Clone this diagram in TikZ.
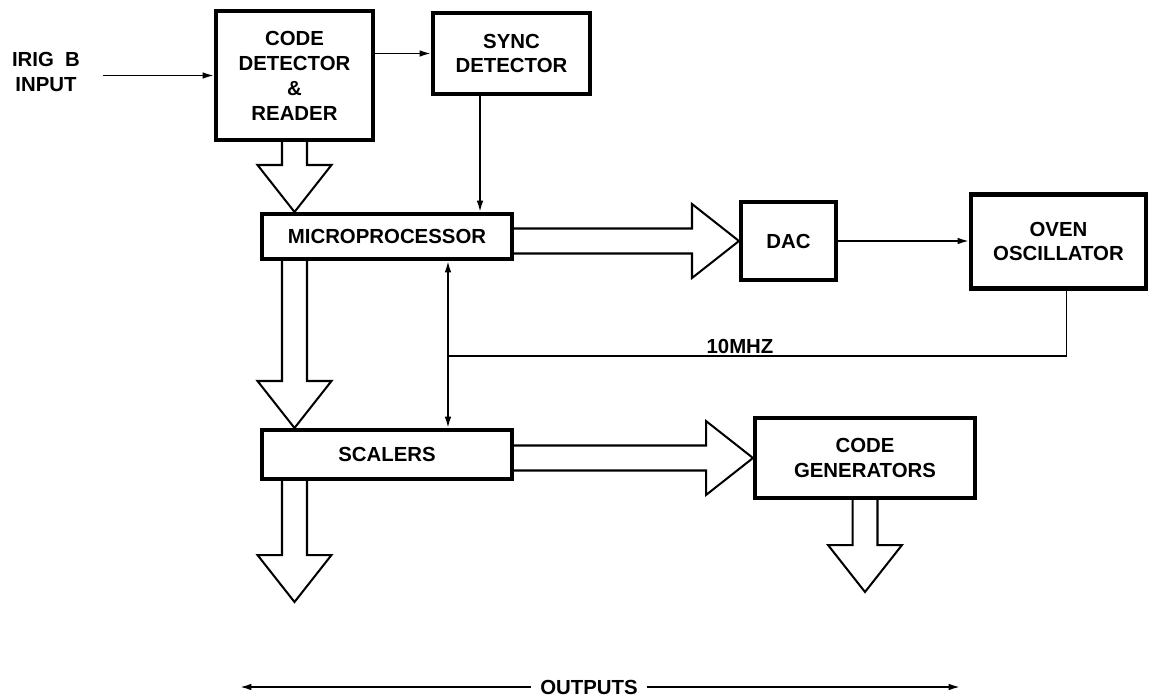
\documentclass[tikz,border=0pt]{standalone}
\usepackage{fontspec}
\setmainfont{Liberation Sans}
\usetikzlibrary{calc, arrows.meta}

% flecha hueca ancha: de #1 a #2
\newcommand{\fatarrow}[2]{%
  \coordinate (fa-a) at (#1);
  \coordinate (fa-b) at (#2);
  \coordinate (fa-h) at ($(fa-b)!0.94cm!(fa-a)$);
  \draw[fatline] ($(fa-a)!0.25cm!90:(fa-b)$) -- ($(fa-h)!0.25cm!-90:(fa-a)$)
    -- ($(fa-h)!0.74cm!-90:(fa-a)$) -- (fa-b) -- ($(fa-h)!0.74cm!90:(fa-a)$)
    -- ($(fa-h)!0.25cm!90:(fa-a)$) -- ($(fa-a)!0.25cm!-90:(fa-b)$);}

\begin{document}
\begin{tikzpicture}[x=0.02cm, y=-0.02cm,
  box/.style={draw, line width=2.3pt, align=center, inner sep=0pt},
  fatline/.style={line width=1.15pt, line join=miter},
  sig/.style={line width=1pt},
  lbl/.style={align=center},
  >={Latex[length=6.5pt,width=3.8pt]},
  every node/.style={font=\fontsize{11.6}{14.2}\selectfont\bfseries}]
\useasboundingbox (0,0) rectangle (1150,700);

% bloques
\node[box, minimum width=3.14cm, minimum height=2.58cm] (code) at (294.5,75.5) {CODE\\DETECTOR\\\&\\READER};
\node[box, minimum width=3.14cm, minimum height=1.62cm] (sync) at (511.5,53.5) {SYNC\\DETECTOR};
\node[box, minimum width=5cm, minimum height=0.9cm] (micro) at (387,236.5) {MICROPROCESSOR};
\node[box, minimum width=5cm, minimum height=0.98cm] (scal) at (387,454.5) {SCALERS};
\node[box, minimum width=1.9cm, minimum height=1.56cm] (dac) at (788.5,241) {DAC};
\node[box, minimum width=3.5cm, minimum height=1.88cm] (osc) at (1058.5,241.5) {OVEN\\OSCILLATOR};
\node[box, minimum width=4.4cm, minimum height=1.6cm] (gen) at (865,458) {CODE\\GENERATORS};

% textos sueltos
\node[lbl] (irig) at (46,72) {IRIG\ \ B\\INPUT};
\node[lbl, inner sep=1pt, above] (mhz) at (740,356) {10MHZ};
\node[lbl, inner sep=5pt] (outs) at (589,687) {OUTPUTS};

% senales finas
\coordinate (irigin) at (103,75.5);
\draw[sig,->] (irigin) -- (code.west);
\draw[sig,->] (code.east |- sync.west) -- (sync.west);
\coordinate (st) at ([xshift=-0.63cm]sync.south);
\draw[sig,->] (st) -- (st |- micro.north);
\draw[sig,->] (dac.east) -- (dac.east -| osc.west);
\coordinate (bt) at ([xshift=1.22cm]micro.south);
\coordinate (bb) at ([xshift=1.22cm]scal.north);
\draw[sig,<->] (bt) -- (bb);
\draw[sig] ([xshift=0.16cm]osc.south) |- (bt |- mhz.south);

% buses (flechas huecas)
\fatarrow{code.south}{code.south |- micro.north}
\fatarrow{code.south |- micro.south}{code.south |- scal.north}
\fatarrow{micro.east |- dac.west}{dac.west}
\fatarrow{scal.east |- gen.west}{gen.west}
\coordinate (o1) at (294.5,602);
\coordinate (o2) at (865,592);
\fatarrow{o1 |- scal.south}{o1}
\fatarrow{gen.south}{o2}

% salidas
\coordinate (ol) at (240,687);
\coordinate (or) at (960,687);
\draw[sig,->] (outs.west) -- (ol);
\draw[sig,->] (outs.east) -- (or);
\end{tikzpicture}
\end{document}
